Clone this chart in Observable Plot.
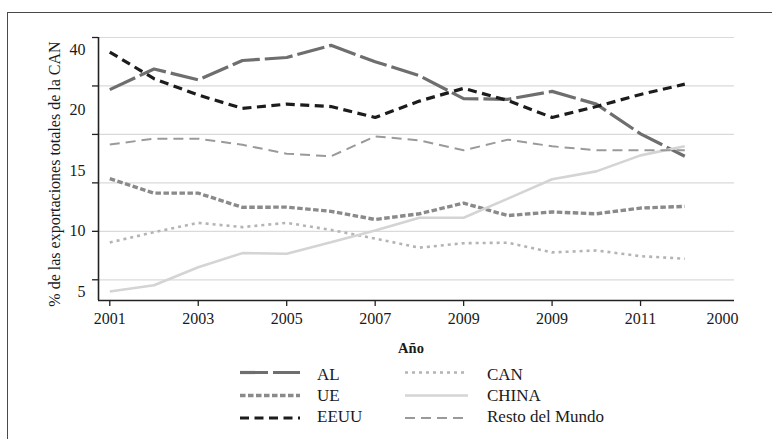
<!DOCTYPE html>
<html>
<head>
<meta charset="utf-8">
<script src="https://cdn.jsdelivr.net/npm/d3@7"></script>
<script src="https://cdn.jsdelivr.net/npm/@observablehq/plot@0.6"></script>
<style>
  html, body { margin: 0; padding: 0; background: #fff; }
  #wrap { position: relative; width: 772px; height: 439px; overflow: hidden; background: #fff;
          font-family: 'Liberation Serif', 'Times New Roman', serif; color: #1a1a1a; }
  #border { position: absolute; left: 7px; top: 12px; width: 820px; height: 600px; border: 1.5px solid #4a4a4a; }
  #chart { position: absolute; left: 0; top: 0; }
  #ytitle { position: absolute; left: 55px; top: 174px; transform: translate(-50%, -50%) rotate(-90deg);
            white-space: nowrap; font-size: 16px; }
  #xtitle { position: absolute; left: 411px; top: 348px; transform: translate(-50%, -50%);
            font-weight: bold; font-size: 14.5px; }
  #legend { position: absolute; left: 0; top: 0; }
</style>
</head>
<body>
<div id="wrap">
  <div id="border"></div>
  <div id="chart"></div>
  <div id="ytitle"></div>
  <div id="xtitle"></div>
  <svg id="legend" width="772" height="439"></svg>
</div>
<script>
// ---- data ----
const years = [2001, 2002, 2003, 2004, 2005, 2006, 2007, 2008, 2009, 2010, 2011, 2012, 2013, 2014];
const AL    = [21.7, 23.4, 22.5, 24.1, 24.35, 25.35, 24.0, 22.85, 20.95, 20.9, 21.55, 20.5, 18.05, 16.2];
const UE    = [14.35, 13.15, 13.15, 11.98, 12.0, 11.65, 10.98, 11.45, 12.33, 11.3, 11.6, 11.45, 11.92, 12.06];
const EEUU  = [24.8, 22.6, 21.25, 20.15, 20.5, 20.3, 19.4, 20.75, 21.8, 20.8, 19.4, 20.3, 21.3, 22.15];
const CAN   = [9.08, 9.93, 10.7, 10.35, 10.7, 10.12, 9.4, 8.65, 9.02, 9.06, 8.26, 8.42, 7.95, 7.74];
const CHINA = [5.03, 5.55, 7.04, 8.2, 8.15, 9.1, 10.07, 11.12, 11.12, 12.7, 14.3, 14.95, 16.27, 17.02];
const RESTO = [17.16, 17.65, 17.65, 17.14, 16.41, 16.19, 17.84, 17.51, 16.69, 17.57, 17.02, 16.69, 16.69, 16.69];

const seriesNames = ["AL", "UE", "EEUU", "CAN", "CHINA", "Resto del Mundo"];
const seriesValues = [AL, UE, EEUU, CAN, CHINA, RESTO];

const yTickValues = [5, 10, 15, 20, 25];
const yTickLabels = ["5", "10", "15", "20", "40"];
const gridValues = [6, 10, 14, 18, 22, 26];

const xTickValues = [2001, 2003, 2005, 2007, 2009, 2011, 2013];
const xTickLabels = ["2001", "2003", "2005", "2007", "2009", "2009", "2011"];
const xExtraValues = [2014.85];
const xExtraLabels = ["2000"];

const yTitle = "% de las exportaciones totales de la CAN";
const xTitle = "Año";

// ---- styles ----
const styles = {
  "AL":              {stroke: "#6e6e6e", width: 3.2, dash: "28,5"},
  "UE":              {stroke: "#8a8a8a", width: 3.4, dash: "5.5,2.5"},
  "EEUU":            {stroke: "#1c1c1c", width: 3.2, dash: "9,5.5"},
  "CAN":             {stroke: "#b4b4b4", width: 2.6, dash: "3,4"},
  "CHINA":           {stroke: "#d4d4d4", width: 2.6, dash: null},
  "Resto del Mundo": {stroke: "#9a9a9a", width: 2.0, dash: "10,6"}
};

const xDomain = [2000.745, 2015.124];
const yDomain = [4.29, 26];

const rows = (name, vals) => years.map((yr, i) => ({year: yr, value: vals[i], series: name}));

const lineMarks = seriesNames.map((name, k) => {
  const s = styles[name];
  return Plot.lineY(rows(name, seriesValues[k]), {
    x: "year", y: "value",
    stroke: s.stroke, strokeWidth: s.width,
    strokeDasharray: s.dash || undefined,
    strokeLinecap: "butt", strokeLinejoin: "miter"
  });
});

const chart = Plot.plot({
  width: 772, height: 330,
  marginLeft: 98, marginRight: 38, marginTop: 37, marginBottom: 30,
  style: {fontFamily: "'Liberation Serif', 'Times New Roman', serif", fontSize: "16px",
          color: "#1a1a1a", background: "transparent", overflow: "visible"},
  x: {type: "linear", domain: xDomain},
  y: {type: "linear", domain: yDomain},
  marks: [
    Plot.ruleY(gridValues, {stroke: "#dadada", strokeWidth: 1.2}),
    ...lineMarks,
    Plot.ruleX([xDomain[0]], {stroke: "#222", strokeWidth: 1.6}),
    Plot.ruleY([yDomain[0]], {stroke: "#222", strokeWidth: 1.6}),
    Plot.axisY(gridValues, {tickSize: 6, stroke: "#222", strokeWidth: 1.3,
      tickFormat: () => "", label: null}),
    Plot.axisY(yTickValues, {tickSize: 0, tickPadding: 13, fontSize: 16, label: null,
      tickFormat: d => yTickLabels[yTickValues.indexOf(d)]}),
    Plot.axisX(xTickValues, {tickSize: 6, stroke: "#222", strokeWidth: 1.3, label: null,
      tickPadding: 6, fontSize: 16,
      tickFormat: d => xTickLabels[xTickValues.indexOf(d)]}),
    Plot.axisX(xExtraValues, {tickSize: 0, tickPadding: 12, fontSize: 16, label: null,
      tickFormat: d => xExtraLabels[xExtraValues.indexOf(d)]})
  ]
});
document.getElementById("chart").append(chart);
document.getElementById("ytitle").textContent = yTitle;
document.getElementById("xtitle").textContent = xTitle;

// ---- legend ----
const leg = d3.select("#legend");
const cols = [
  {x1: 240, x2: 300, tx: 317},
  {x1: 405, x2: 468, tx: 487}
];
const rowsY = [372.5, 395.5, 418];
const textBase = [380, 401, 422];
seriesNames.forEach((name, k) => {
  const c = cols[Math.floor(k / 3)];
  const r = k % 3;
  const s = styles[name];
  leg.append("line")
    .attr("x1", c.x1).attr("x2", c.x2)
    .attr("y1", rowsY[r]).attr("y2", rowsY[r])
    .attr("stroke", s.stroke).attr("stroke-width", s.width)
    .attr("stroke-dasharray", s.dash)
    .attr("stroke-linecap", "butt");
  leg.append("text")
    .attr("x", c.tx).attr("y", textBase[r])
    .attr("font-family", "'Liberation Serif', 'Times New Roman', serif")
    .attr("font-size", 17)
    .attr("fill", "#1a1a1a")
    .text(name);
});
</script>
</body>
</html>
